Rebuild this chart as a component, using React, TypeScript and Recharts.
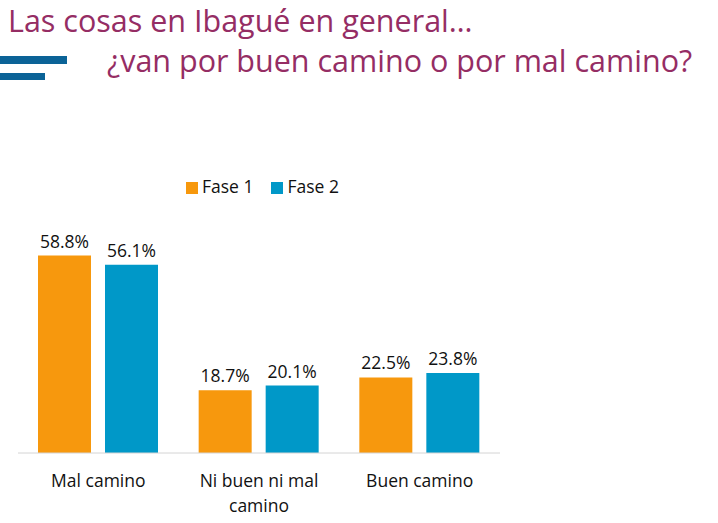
import React from "react"
import { BarChart, Bar, XAxis, YAxis, Legend, LabelList, Text } from "recharts"

const categories = ["Mal camino", "Ni buen ni mal camino", "Buen camino"]
const fase1 = [58.8, 18.7, 22.5]
const fase2 = [56.1, 20.1, 23.8]

const data = categories.map((name, i) => ({ name, fase1: fase1[i], fase2: fase2[i] }))

const FONT = "'Open Sans', sans-serif"
const ORANGE = "#F7980D"
const BLUE = "#0098C8"
const TITLE = "#952D64"

function CategoryTick(props: any) {
  const { x, y, payload } = props
  return (
    <Text
      x={x}
      y={y + 14}
      width={140}
      textAnchor="middle"
      verticalAnchor="start"
      lineHeight={25}
      fontSize={17.5}
      fontFamily={FONT}
      fill="#111"
    >
      {payload.value}
    </Text>
  )
}

export default function App() {
  return (
    <div style={{ position: "absolute", left: 0, top: 0, width: 718, height: 523, background: "#fff", fontFamily: FONT }}>
      <div style={{ position: "absolute", left: 8, top: 3, fontSize: 30.5, lineHeight: "34px", fontWeight: 500, color: TITLE, whiteSpace: "nowrap" }}>
        Las cosas en Ibagué en general…
      </div>
      <div style={{ position: "absolute", left: 107, top: 43, fontSize: 30.5, lineHeight: "34px", fontWeight: 500, color: TITLE, whiteSpace: "nowrap" }}>
        ¿van por buen camino o por mal camino?
      </div>
      <div style={{ position: "absolute", left: 0, top: 56, width: 67, height: 8, background: "#0B6397" }} />
      <div style={{ position: "absolute", left: 0, top: 73, width: 45, height: 7, background: "#0B6397" }} />
      <div style={{ position: "absolute", left: 0, top: 0 }}>
        <BarChart
          width={718}
          height={523}
          data={data}
          margin={{ top: 218, right: 218, left: 18, bottom: 40 }}
          barGap={14}
          barSize={53}
        >
          <XAxis
            dataKey="name"
            axisLine={{ stroke: "#d4d4d4" }}
            tickLine={false}
            interval={0}
            tick={<CategoryTick />}
          />
          <YAxis hide domain={[0, 70]} allowDataOverflow />
          <Legend
            verticalAlign="middle"
            align="center"
            iconType="square"
            iconSize={12}
            wrapperStyle={{ position: "absolute", left: 186, top: 174, width: "auto", fontSize: 17.5, fontFamily: FONT }}
            formatter={(v: string) => <span style={{ color: "#111", marginRight: 8 }}>{v}</span>}
          />
          <Bar dataKey="fase1" name="Fase 1" fill={ORANGE} isAnimationActive={false}>
            <LabelList dataKey="fase1" position="top" offset={8} fill="#111" fontSize={17.5} fontFamily={FONT} formatter={(v: any) => `${Number(v).toFixed(1)}%`} />
          </Bar>
          <Bar dataKey="fase2" name="Fase 2" fill={BLUE} isAnimationActive={false}>
            <LabelList dataKey="fase2" position="top" offset={8} fill="#111" fontSize={17.5} fontFamily={FONT} formatter={(v: any) => `${Number(v).toFixed(1)}%`} />
          </Bar>
        </BarChart>
      </div>
    </div>
  )
}
